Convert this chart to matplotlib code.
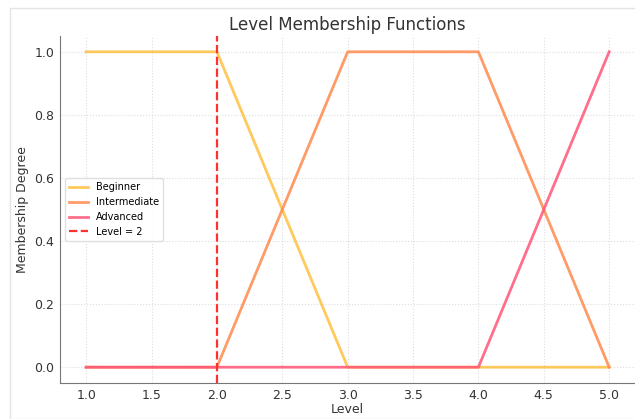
import matplotlib
matplotlib.use("Agg")
import matplotlib.pyplot as plt
from matplotlib.patches import Rectangle

levels = [1.0, 2.0, 3.0, 4.0, 5.0]
beginner = [1.0, 1.0, 0.0, 0.0, 0.0]
intermediate = [0.0, 0.0, 1.0, 1.0, 0.0]
advanced = [0.0, 0.0, 0.0, 0.0, 1.0]
level_value = 2
xticks = [1.0, 1.5, 2.0, 2.5, 3.0, 3.5, 4.0, 4.5, 5.0]
yticks = [0.0, 0.2, 0.4, 0.6, 0.8, 1.0]

fig = plt.figure(figsize=(6.35, 4.19), dpi=100)
ax = fig.add_axes([0.0945, 0.086, 0.906, 0.828])

ax.plot(levels, beginner, color="#FFC040", lw=2.0, label="Beginner", alpha=0.85)
ax.plot(levels, intermediate, color="#FF8A4C", lw=2.0, label="Intermediate", alpha=0.85)
ax.plot(levels, advanced, color="#FF5577", lw=2.0, label="Advanced", alpha=0.85)
ax.axvline(level_value, color="#FF3030", ls="--", lw=1.6, label=f"Level = {level_value}")

ax.set_xlim(0.8, 5.2)
ax.set_ylim(-0.05, 1.05)
ax.set_xticks(xticks)
ax.set_yticks(yticks)
ax.tick_params(labelsize=9, colors="#333333", length=0, pad=4)
ax.grid(True, ls=":", color="#dddddd", lw=0.8)
for s in ["top", "right"]:
    ax.spines[s].set_visible(False)
for s in ["left", "bottom"]:
    ax.spines[s].set_color("#777777")

ax.set_title("Level Membership Functions", fontsize=12, color="#333333", pad=4)
ax.set_xlabel("Level", fontsize=9, color="#333333", labelpad=1)
ax.set_ylabel("Membership Degree", fontsize=9, color="#333333", labelpad=4)

ax.legend(loc="center left", bbox_to_anchor=(0.0, 0.5), fontsize=7, frameon=True,
          framealpha=0.9, edgecolor="#dddddd")

fig.patches.append(Rectangle((0.015, 0.0), 0.99, 0.98, transform=fig.transFigure,
                             fill=False, edgecolor="#e4e4e4", lw=1.0))

fig.savefig("out.png", dpi=100)
